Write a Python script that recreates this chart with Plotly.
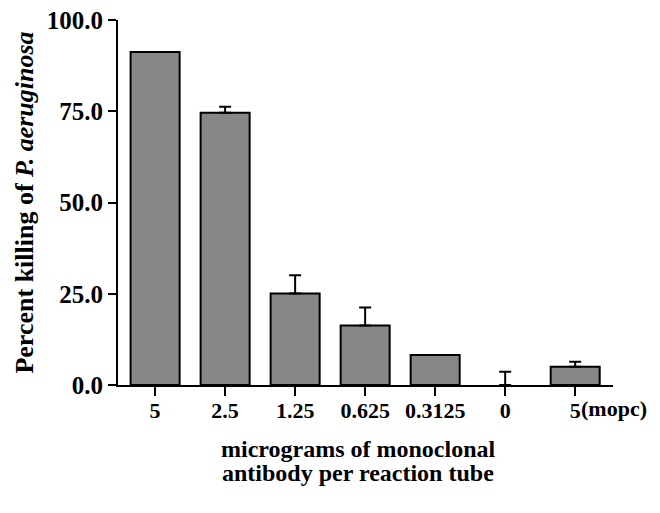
import plotly.graph_objects as go

categories = ["5", "2.5", "1.25", "0.625", "0.3125", "0", "5(mopc)"]
tick_labels = ["5", "2.5", "1.25", "0.625", "0.3125", "0", "5"]
values = [91.2, 74.6, 25.1, 16.3, 8.2, 0.0, 5.0]
errors_plus = [None, 1.6, 5.0, 4.9, None, 3.6, 1.4]
y_ticks = [0, 25, 50, 75, 100]
y_tick_labels = ["0.0", "25.0", "50.0", "75.0", "100.0"]
x_title_lines = ["micrograms of monoclonal", "antibody per reaction tube"]

FONT = "Liberation Serif"

fig = go.Figure()
fig.add_trace(go.Bar(
    x=list(range(len(categories))),
    y=values,
    width=0.7,
    marker=dict(color="#878787",
                line=dict(color="#000000",
                          width=[0 if v == 0 else 2 for v in values])),
    error_y=dict(type="data", symmetric=False, array=errors_plus,
                 arrayminus=[0] * len(values), color="#000000",
                 thickness=2, width=6, visible=True),
    hoverinfo="skip",
))

# page body has an 8px margin: figure is sized/margined to compensate
fig.update_layout(
    width=652, height=505,
    margin=dict(l=110, r=47, t=12, b=128),
    paper_bgcolor="white", plot_bgcolor="white",
    showlegend=False,
    font=dict(family=FONT, color="#000000", size=22),
    xaxis=dict(
        range=[-0.53, 6.54], automargin=False,
        tickmode="array", tickvals=list(range(len(categories))),
        ticktext=[f"<b>{t}</b>" for t in tick_labels],
        ticks="outside", ticklen=9, tickwidth=2, tickcolor="#000",
        ticklabelstandoff=-4, ticklabeloverflow="allow",
        showline=True, linecolor="#000", linewidth=2,
        showgrid=False, zeroline=False,
        tickfont=dict(family=FONT, size=22),
    ),
    yaxis=dict(
        range=[0, 100], automargin=False,
        tickmode="array", tickvals=y_ticks,
        ticktext=[f"<b>{t}</b>" for t in y_tick_labels],
        ticks="outside", ticklen=8, tickwidth=2, tickcolor="#000",
        ticklabeloverflow="allow",
        showline=True, linecolor="#000", linewidth=2,
        showgrid=False, zeroline=False,
        tickfont=dict(family=FONT, size=25),
        title=dict(text="<b>Percent killing of <i>P. aeruginosa</i></b>",
                   font=dict(family=FONT, size=26), standoff=6),
    ),
)

# short extension of the x axis line to the left of the y axis
fig.add_shape(type="line", xref="paper", yref="y", x0=-8 / 495, x1=0, y0=0, y1=0,
              line=dict(color="#000", width=2))

fig.add_annotation(x=6, y=0, xref="x", yref="y", text="<b>(mopc)</b>",
                   showarrow=False, xanchor="left", yanchor="top",
                   xshift=4, yshift=-9, font=dict(family=FONT, size=22))

# x-axis title as two tightly spaced lines
for i, line in enumerate(x_title_lines):
    fig.add_annotation(x=0.485, y=-0.175 - 0.066 * i, xref="paper", yref="paper",
                       text=f"<b>{line}</b>", showarrow=False,
                       xanchor="center", yanchor="middle",
                       font=dict(family=FONT, size=24))

fig.write_html("out.html")
